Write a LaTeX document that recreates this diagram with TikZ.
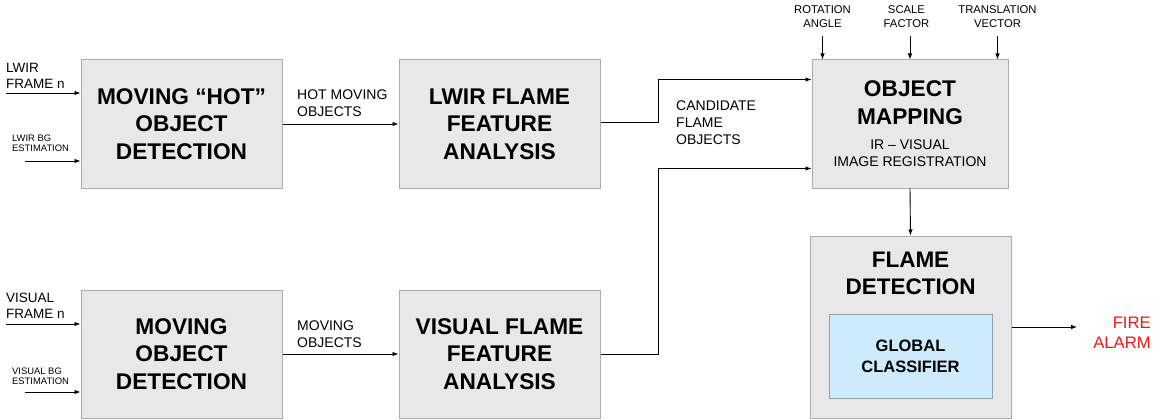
\documentclass[tikz,border=0pt]{standalone}
\usepackage{fontspec}
\setmainfont{Liberation Sans}
\usepackage{xcolor}
\usepackage{tikz}
\usetikzlibrary{positioning,arrows.meta}

\definecolor{boxfill}{RGB}{232,232,232}
\definecolor{boxline}{RGB}{172,172,172}
\definecolor{clsfill}{RGB}{204,235,251}
\definecolor{clsline}{RGB}{140,160,176}
\definecolor{alarmred}{RGB}{240,24,24}

\begin{document}
\begin{tikzpicture}[x=1pt,y=-1pt,
  blk/.style={draw=boxline,fill=boxfill,line width=1pt,minimum width=201pt,minimum height=128pt,
    align=center,inner sep=0pt,font=\fontsize{22.7}{27.5}\selectfont\bfseries},
  lbl/.style={inner sep=0pt,align=left,anchor=west,font=\fontsize{13.5}{16}\selectfont},
  tiny/.style={inner sep=0pt,align=left,anchor=west,font=\fontsize{9.4}{10.2}\selectfont},
  toplbl/.style={inner sep=0pt,align=center,font=\fontsize{11.3}{14}\selectfont},
  arr/.style={-{Latex[length=6pt,width=4.5pt]},line width=0.9pt}]
  \useasboundingbox (0,0) rectangle (1165,420);
  % processing blocks
  \node[blk] (hotdet) at (181.5,124) {MOVING “HOT”\\OBJECT\\DETECTION};
  \node[blk] (lwirfeat) at (499.5,124) {LWIR FLAME\\FEATURE\\ANALYSIS};
  \node[blk] (visdet) at (181.5,354) {MOVING\\OBJECT\\DETECTION};
  \node[blk] (visfeat) at (499.5,354) {VISUAL FLAME\\FEATURE\\ANALYSIS};
  \node[blk,minimum width=196pt] (mapping) at (910,124) {};
  \node[blk,draw=none,fill=none,minimum width=0pt,minimum height=0pt] (maptitle) at (910,102.5) {OBJECT\\MAPPING};
  \node[toplbl,font=\fontsize{14}{17}\selectfont] (mapsub) at (910,153.5) {IR – VISUAL\\IMAGE REGISTRATION};
  \node[blk,minimum height=182pt] (flamedet) at (910.5,327) {};
  \node[blk,draw=none,fill=none,minimum width=0pt,minimum height=0pt,font=\fontsize{22.5}{27}\selectfont\bfseries] (flametitle) at (910.5,273) {FLAME\\DETECTION};
  \node[blk,draw=clsline,fill=clsfill,minimum width=163pt,minimum height=84pt,
    font=\fontsize{16.5}{21}\selectfont\bfseries] (classifier) at (910.5,356) {GLOBAL\\CLASSIFIER};
  % inputs
  \node[lbl] (lwirlbl) at (6,75.5) {LWIR\\FRAME n};
  \node[tiny] (lwirbg) at (12,143.5) {LWIR BG\\ESTIMATION};
  \node[lbl] (vislbl) at (6,306) {VISUAL\\FRAME n};
  \node[tiny] (visbg) at (12,376) {VISUAL BG\\ESTIMATION};
  \coordinate (lwirin) at (6,93);
  \coordinate (lwirbgin) at (25,161);
  \coordinate (visin) at (6,324);
  \coordinate (visbgin) at (25,392);
  \draw[arr] (lwirin) -- (lwirin -| hotdet.west);
  \draw[arr] (lwirbgin) -- (lwirbgin -| hotdet.west);
  \draw[arr] (visin) -- (visin -| visdet.west);
  \draw[arr] (visbgin) -- (visbgin -| visdet.west);
  % intermediate labels
  \node[lbl,font=\fontsize{14}{17}\selectfont] (hotlbl) at (297,103) {HOT MOVING\\OBJECTS};
  \node[lbl,font=\fontsize{14}{17}\selectfont] (movlbl) at (297,334) {MOVING\\OBJECTS};
  \node[lbl,font=\fontsize{14}{17}\selectfont] (candlbl) at (676,123) {CANDIDATE\\FLAME\\OBJECTS};
  \draw[arr] (hotdet.east) -- (lwirfeat.west);
  \draw[arr] (visdet.east) -- (visfeat.west);
  \draw[arr] ([yshift=2pt]lwirfeat.east) -- ++(58,0) |- ([yshift=-20pt]mapping.north west);
  \draw[arr] (visfeat.east) -- ++(58,0) |- ([yshift=20pt]mapping.south west);
  % registration parameters
  \node[toplbl] (rotlbl) at (822.5,17) {ROTATION\\ANGLE};
  \node[toplbl] (scalelbl) at (906.5,17) {SCALE\\FACTOR};
  \node[toplbl] (translbl) at (997.5,17) {TRANSLATION\\VECTOR};
  \draw[arr] ([yshift=23pt]mapping.north -| rotlbl) -- (mapping.north -| rotlbl);
  \draw[arr] ([yshift=23pt]mapping.north) -- (mapping.north);
  \draw[arr] ([yshift=23pt]mapping.north -| translbl) -- (mapping.north -| translbl);
  \draw[arr] (mapping.south) -- (flamedet.north);
  % output
  \node[inner sep=0pt,align=right,anchor=east,text=alarmred,font=\fontsize{16.7}{20.5}\selectfont] (alarm) at (1151,333) {FIRE\\ALARM};
  \draw[arr] (flamedet.east) -- ([xshift=-16pt]alarm.west |- flamedet.east);
\end{tikzpicture}
\end{document}
